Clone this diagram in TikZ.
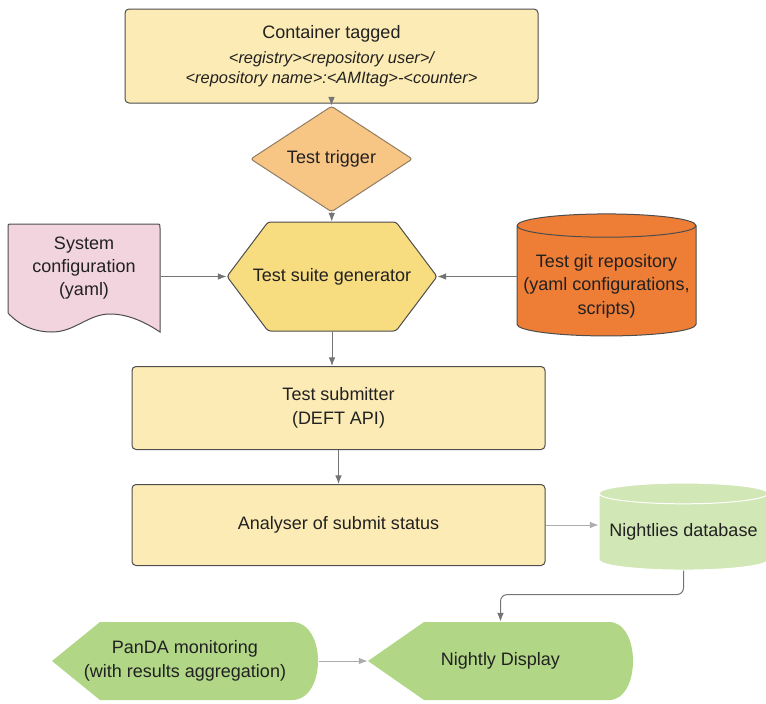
\documentclass[tikz,border=0pt]{standalone}
\usepackage{fontspec}
\setmainfont{Liberation Sans}
\usetikzlibrary{positioning,shapes.geometric,arrows.meta}
\definecolor{boxyellow}{HTML}{FCEBB4}
\definecolor{trigorange}{HTML}{F7C584}
\definecolor{genyellow}{HTML}{F8DC80}
\definecolor{docpink}{HTML}{F2D4DF}
\definecolor{repoorange}{HTML}{EE7D36}
\definecolor{dbgreen}{HTML}{D2E7B6}
\definecolor{dispgreen}{HTML}{B1D685}
\definecolor{edgegray}{HTML}{4D4D4D}
\definecolor{linkgray}{HTML}{747474}
\newcommand{\tagfont}{\itshape\fontsize{12.3}{15}\selectfont}
\tikzset{every node/.style = {text=black!87, font=\fontsize{13.5}{17.5}\selectfont, align=center}}
\tikzset{process/.style = {draw=edgegray, fill=boxyellow, rounded corners=3pt, minimum width=309.75pt}}
\tikzset{decision/.style = {diamond, draw=edgegray!60!trigorange, fill=trigorange, rounded corners=2pt, minimum width=121.5pt, minimum height=58.5pt, inner sep=0pt}}
\tikzset{store/.style = {cylinder, shape border rotate=90, inner sep=0pt}}
\tikzset{display/.style = {minimum height=58.5pt, inner sep=0pt}}
\tikzset{link/.style = {->, draw=linkgray}}

\begin{document}
\begin{tikzpicture}[x=0.75pt, y=-0.75pt, >={Latex[length=6.5pt,width=5pt]}, line width=0.75pt]
  \useasboundingbox (0,0) rectangle (766,703);

  % shapes without a tikz counterpart
  \draw[draw=edgegray, fill=genyellow, rounded corners=2pt] (227,276.5) -- (268,222) -- (396,222) -- (437,276.5) -- (396,331) -- (268,331) -- cycle;
  \draw[draw=edgegray, fill=docpink] (160,332) -- (160,228) .. controls (160,224) .. (156,224) -- (12,224) .. controls (8,224) .. (8,228) -- (8,313) .. controls (20,326) and (35,332) .. (52,332) .. controls (75,332) and (88,314) .. (110,314) .. controls (130,314) and (148,324) .. (160,332) -- cycle;
  \fill[dispgreen] (52,661) -- (100,622) -- (292,622) .. controls (326.7,622) and (326.7,700) .. (292,700) -- (100,700) -- cycle;
  \fill[dispgreen] (368,661) -- (424,622) -- (609,622) .. controls (641,622) and (641,700) .. (609,700) -- (424,700) -- cycle;

  \node [process, minimum height=70.5pt] (cont) at (331.5,56) {Container tagged\\[1pt]{\tagfont <registry><repository user>/}\\[-2.5pt]{\tagfont <repository name>:<AMItag>-<counter>}};
  \node [decision] (trig) at (331.5,159) {Test trigger};
  \node [minimum width=157.5pt, minimum height=81.75pt, inner sep=0pt] (gen) at (332,276.5) {Test suite generator};
  \node [minimum width=114pt] (sys) at (84,268) {System\\configuration\\(yaml)};
  \node [store, draw=edgegray, fill=repoorange, aspect=0.13, minimum height=91.5pt,
         label={[yshift=-4pt]center:{Test git repository\\(yaml configurations,\\scripts)}}] (repo) at (606.5,281) {\rule{134.25pt}{0pt}};
  \node [process, minimum height=62.25pt] (sub) at (338.5,408) {Test submitter\\(DEFT API)};
  \node [process, minimum height=60.75pt] (ana) at (338.5,525) {Analyser of submit status};
  \node [store, draw=white, fill=dbgreen, aspect=0.14, minimum width=126.75pt, minimum height=65.25pt] (db) at (683.5,532) {Nightlies database};
  \node [display, minimum width=199.5pt] (pan) at (185,661) {PanDA monitoring\\(with results aggregation)};
  \node [display, minimum width=198.75pt] (disp) at (500.5,661) {Nightly Display};

  \path (cont) edge[link] (trig);
  \path (trig) edge[link] (gen);
  \path (sys.east |- gen.west) edge[link] (gen.west);
  \path (repo.west |- gen.east) edge[link] (gen.east);
  \path (gen.south) edge[link] (gen.south |- sub.north);
  \path (sub) edge[link] (ana);
  \path (ana.east) edge[link, draw=linkgray!60] (ana.east -| db.west);
  \path (pan) edge[link, draw=linkgray!60] (disp);
  \draw[link, rounded corners=5pt] (db.south) -- ++(0,24) -| (disp.north);
\end{tikzpicture}
\end{document}
